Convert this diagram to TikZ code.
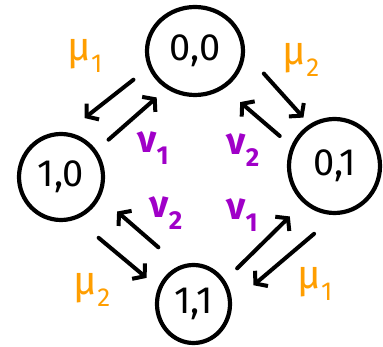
\documentclass[tikz,border=0pt]{standalone}
\usepackage{fontspec}
\setsansfont{Fira Sans}
\newfontfamily\grkfont{Fira Sans}
\usepackage{tikz}
\usetikzlibrary{arrows.meta,shapes.geometric}
\definecolor{Orange}{HTML}{FF9E00}
\definecolor{Violet}{HTML}{A000C8}
\newcommand{\rate}[2]{#1\raisebox{-0.3em}{\fontsize{26}{26}\selectfont #2}}
\tikzset{
  stnode/.style={draw=black,ellipse,line width=4.2pt,inner sep=0pt,font=\sffamily\fontsize{38}{38}\selectfont},
  arr/.style={-{Straight Barb[length=8pt,width=20pt]},line width=4pt,line cap=round,draw=black},
  mulabel/.style={text=Orange,font=\grkfont\fontsize{40}{40}\selectfont},
  nulabel/.style={text=Violet,font=\grkfont\bfseries\fontsize{38}{38}\selectfont}
}

\begin{document}
\begin{tikzpicture}[x=1pt,y=-1pt]
  \useasboundingbox (0,0) rectangle (383,347);
  \node[stnode,minimum width=96pt,minimum height=88pt] (s00) at (195,51) {0,0};
  \node[stnode,minimum width=84pt,minimum height=86pt] (s10) at (61,177) {1,0};
  \node[stnode,minimum width=91pt,minimum height=94pt] (s01) at (334.5,166) {0,1};
  \node[stnode,minimum width=73pt,minimum height=78pt] (s11) at (193.5,304) {1,1};
  \draw[arr,shorten <=19pt,shorten >=23pt] (s00.200) -- (s10.83);
  \draw[arr,shorten <=16pt,shorten >=13pt] (s10.37) -- (s00.233);
  \draw[arr,shorten <=28pt,shorten >=9pt] (s00.358) -- (s01.121);
  \draw[arr,shorten <=15pt,shorten >=21pt] (s01.155) -- (s00.308);
  \draw[arr,shorten <=29pt,shorten >=15pt] (s10.290) -- (s11.155);
  \draw[arr,shorten <=28pt,shorten >=22pt] (s11.110) -- (s10.333);
  \draw[arr,shorten <=17pt,shorten >=19pt] (s11.37) -- (s01.230);
  \draw[arr,shorten <=29pt,shorten >=28pt] (s01.272) -- (s11.1);
  \node[mulabel] (m1a) at (85,56) {\rate{μ}{1}};
  \node[mulabel] (m2a) at (301,60) {\rate{μ}{2}};
  \node[nulabel] (n1a) at (153,148) {\rate{ν}{1}};
  \node[nulabel] (n2a) at (243,150) {\rate{ν}{2}};
  \node[nulabel] (n2b) at (166,213) {\rate{ν}{2}};
  \node[nulabel] (n1b) at (242,215) {\rate{ν}{1}};
  \node[mulabel] (m2b) at (92,290) {\rate{μ}{2}};
  \node[mulabel] (m1b) at (315,284) {\rate{μ}{1}};
\end{tikzpicture}
\end{document}
